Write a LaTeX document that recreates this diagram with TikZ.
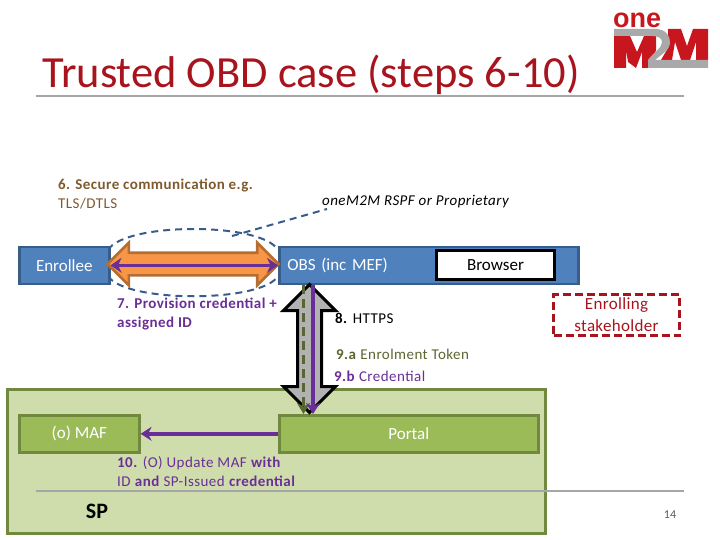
\documentclass[tikz,border=0pt]{standalone}
\usepackage{fontspec}
\setmainfont{Carlito}
\newfontfamily\logofont{Liberation Sans}
\usetikzlibrary{shapes.arrows,arrows.meta}
\definecolor{titlered}{HTML}{A8141E}
\definecolor{boxblue}{HTML}{4F81BD}
\definecolor{boxblueedge}{HTML}{385D8A}
\definecolor{greenfill}{HTML}{9BBB59}
\definecolor{greenedge}{HTML}{71893F}
\definecolor{paleg}{HTML}{CFDDAC}
\definecolor{orangefill}{HTML}{F79646}
\definecolor{orangeedge}{HTML}{B66D31}
\definecolor{purp}{HTML}{6A2F96}
\definecolor{olivetx}{HTML}{5A6630}
\definecolor{browntx}{HTML}{7F5A2E}
\definecolor{rulegray}{HTML}{A6A6A6}
\definecolor{logogray}{HTML}{A9A9A9}
\definecolor{logored}{HTML}{C8161E}
\newcommand{\boxfont}{\fontsize{17}{20}\selectfont}
\newcommand{\lblfont}{\fontsize{15}{19}\selectfont\addfontfeature{LetterSpace=3}}
\tikzset{
  blue box/.style={draw=boxblueedge,fill=boxblue,line width=2.6pt,text=white,inner sep=0pt,font=\boxfont},
  green box/.style={draw=greenedge,fill=greenfill,line width=2.6pt,text=white,inner sep=0pt,font=\boxfont},
  label text/.style={inner sep=0pt,anchor=north west,align=left,font=\lblfont},
  purple arrow/.style={draw=purp,line width=3.6pt},
  dash line/.style={boxblueedge,line width=2pt,dash pattern=on 7pt off 5pt},
}
\begin{document}
\begin{tikzpicture}[x=1pt,y=-1pt]
\useasboundingbox (0,0) rectangle (720,540);
% title
\node[anchor=base west,inner sep=0pt,text=titlered,font=\fontsize{44.5}{50}\selectfont] (title) at (42,88) {Trusted OBD case (steps 6-10)};
\coordinate (ruleL) at (36,96); \coordinate (ruleR) at (684,96);
\draw[rulegray,line width=1.6pt] (ruleL) -- (ruleR);
% logo
\node[anchor=base west,inner sep=0pt,text=logored,font=\logofont\bfseries\fontsize{27}{27}\selectfont] (logotext) at (613,28) {one};
\fill[logored] (614,36) -- (630,36) -- (637,52) -- (644,36) -- (656,36) -- (656,50) -- (650,68) -- (642,68) -- (642,52) -- (636,68) -- (628,62) -- (626,50) -- (626,68) -- (614,68) -- cycle;
\fill[logored] (668,29) -- (681,29) -- (687,46) -- (693,29) -- (708,29) -- (708,60) -- (696,60) -- (696,42) -- (690,60) -- (681,60) -- (675,42) -- (672,60) -- (661,60) -- (668,48) -- cycle;
\fill[logogray] (614,29) -- (655,29) .. controls (666,29) and (670,36) .. (670,42) .. controls (670,50) and (662,54) .. (655,60) -- (708,60) -- (708,68) -- (648,68) -- (648,60) .. controls (654,52) and (662,48) .. (662,42) .. controls (662,38) and (658,36) .. (652,36) -- (614,36) -- cycle;
% SP panel
\node[draw=greenedge,fill=paleg,line width=2.6pt,minimum width=538pt,minimum height=144pt,inner sep=0pt,anchor=north west] (sp) at (6,388) {};
\coordinate (footL) at (36,491); \coordinate (footR) at (684,491);
\draw[rulegray,line width=1.2pt] (footL) -- (footR);
\node[inner sep=0pt,font=\bfseries\fontsize{22}{24}\selectfont] (splabel) at (97,511) {SP};
\node[inner sep=0pt,text=black!65,font=\fontsize{12}{14}\selectfont] (pageno) at (670,515) {14};
% dashed ellipse and callout
\coordinate (elltop) at (232,236);
\coordinate (calloutend) at (327,209);
\coordinate (ellNW) at (108,250); \coordinate (ellNE) at (278,250);
\coordinate (ellSW) at (108,276); \coordinate (ellSE) at (278,276);
\draw[dash line] (elltop) -- (calloutend);
\draw[dash line] (ellNW) .. controls (125,222) and (262,222) .. (ellNE);
\draw[dash line] (ellSW) .. controls (125,303) and (262,303) .. (ellSE);
% boxes
\node[blue box,anchor=north west,minimum width=90pt,minimum height=37pt] (enrollee) at (18,245.5) {Enrollee};
\node[blue box,anchor=north west,minimum width=299pt,minimum height=37pt,text width=283pt,align=left] (obs) at (278,245.5) {OBS (inc MEF)};
\node[draw=black,fill=white,line width=3pt,anchor=north west,minimum width=118pt,minimum height=29pt,inner sep=0pt,font=\boxfont] (browser) at (435,249) {Browser};
\node[green box,anchor=north west,minimum width=120pt,minimum height=37pt] (maf) at (18,414) {(o) MAF};
\node[green box,anchor=north west,minimum width=259pt,minimum height=37pt] (portal) at (278,414) {Portal};
\node[draw=titlered,dash pattern=on 8pt off 4pt,line width=3pt,anchor=north west,minimum width=126pt,minimum height=41pt,inner sep=0pt,align=center,text=titlered,font=\fontsize{17}{22}\selectfont\addfontfeature{LetterSpace=2}] (stake) at (552,293) {Enrolling\\stakeholder};
% orange block arrow
\node[double arrow,draw=orangeedge,fill=orangefill,line width=2.6pt,minimum height=171pt,inner sep=0pt,text height=20pt,text depth=0pt,text width=0pt,double arrow head extend=10pt] (secure) at (193,264) {};
\draw[purple arrow,{Stealth[length=11pt,width=15pt]}-{Stealth[length=11pt,width=15pt]}] (enrollee.east) -- (obs.west);
% vertical block arrow
\node[double arrow,rotate=90,draw=black,fill=black!30,line width=3pt,minimum height=128pt,inner sep=0pt,text height=21pt,text depth=0pt,text width=0pt,double arrow head extend=14pt] (https) at (309.5,348.5) {};
\draw[olivetx,line width=3.6pt,dash pattern=on 9pt off 5pt,-{Stealth[length=11pt,width=13pt]}] ([xshift=25.5pt]obs.south west) -- ([xshift=25.5pt]portal.north west);
\draw[purple arrow,-{Stealth[length=11pt,width=14pt]}] ([xshift=35pt]obs.south west) -- ([xshift=35pt]portal.north west);
% update arrow
\draw[purple arrow,-{Stealth[length=11pt,width=14pt]}] (portal.west) -- (maf.east);
% labels
\node[label text,text=browntx] (l6) at (58,179) {\textbf{6. Secure communication e.g.}\\TLS/DTLS};
\node[label text,font=\lblfont\itshape] (lrspf) at (322,195) {oneM2M RSPF or Proprietary};
\node[label text,text=purp] (l7) at (117,298) {\textbf{7. Provision credential +}\\\textbf{assigned ID}};
\node[label text] (l8) at (335,313) {\textbf{8.} HTTPS};
\node[label text,text=olivetx] (l9a) at (336,349) {\textbf{9.a} Enrolment Token};
\node[label text,text=purp] (l9b) at (334,371) {\textbf{9.b} Credential};
\node[label text,text=purp] (l10) at (117,456) {\textbf{10.} (O) Update MAF \textbf{with}\\ID \textbf{and} SP-Issued \textbf{credential}};
\end{tikzpicture}
\end{document}
